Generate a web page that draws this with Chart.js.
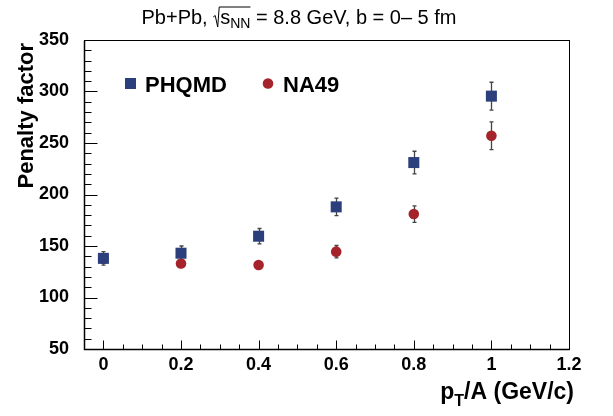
<!DOCTYPE html>
<html><head><meta charset="utf-8">
<script src="https://cdn.jsdelivr.net/npm/chart.js@4/dist/chart.umd.min.js"></script>
<style>html,body{margin:0;padding:0;background:#fff;}canvas{display:block}</style>
</head><body>
<canvas id="c" width="613" height="416"></canvas>
<script>
// ---- data ----
const xValues = [0, 0.2, 0.4, 0.6, 0.8, 1.0];
const phqmdValues = [138, 143, 159.5, 188, 231, 295.5];
const phqmdErrors = [6.5, 7, 7.5, 8.5, 11, 13.5];
const na49Values = [137.5, 133, 131.5, 144.5, 181, 257];
const na49Errors = [3, 2, 2, 6, 8, 13.5];
const xTickValues = [0, 0.2, 0.4, 0.6, 0.8, 1, 1.2];
const yTickValues = [50, 100, 150, 200, 250, 300, 350];
const seriesNames = ['PHQMD', 'NA49'];
const yAxisTitle = 'Penalty factor';

const FONT = '"Liberation Sans", Arial, Helvetica, sans-serif';
const BLUE = '#2b3f7c';
const RED = '#a5232a';
const ERRS = [phqmdErrors, na49Errors];

function pts(ys){ return xValues.map((x,i)=>({x:x, y:ys[i]})); }

const framePlugin = {
  id: 'frame',
  beforeDatasetsDraw(chart){
    const ctx = chart.ctx, xs = chart.scales.x, ys = chart.scales.y;
    ctx.save();
    ctx.strokeStyle = '#444';
    ctx.lineWidth = 1.3;
    chart.data.datasets.forEach((ds, di)=>{
      ds.data.forEach((p, i)=>{
        const e = ERRS[di][i];
        const px = Math.round(xs.getPixelForValue(p.x)) + 0.5;
        const y1 = ys.getPixelForValue(p.y + e), y2 = ys.getPixelForValue(p.y - e);
        ctx.beginPath();
        ctx.moveTo(px, y1); ctx.lineTo(px, y2);
        ctx.moveTo(px-2, y1); ctx.lineTo(px+2, y1);
        ctx.moveTo(px-2, y2); ctx.lineTo(px+2, y2);
        ctx.stroke();
      });
    });
    ctx.restore();
  },
  afterDraw(chart){
    const ctx = chart.ctx, a = chart.chartArea, xs = chart.scales.x, ys = chart.scales.y;
    ctx.save();
    ctx.strokeStyle = '#000';
    ctx.lineWidth = 1;
    const L = Math.round(a.left)+0.5, R = Math.round(a.right)+0.5, T = Math.round(a.top)+0.5, B = Math.round(a.bottom)+0.5;
    ctx.strokeRect(L, T, R-L, B-T);
    ctx.lineWidth = 1.5;
    ctx.beginPath(); ctx.moveTo(L, T); ctx.lineTo(L, B); ctx.lineTo(R, B); ctx.stroke();
    ctx.lineWidth = 1;
    ctx.beginPath();
    for (let v = 50; v <= 350; v += 10) {
      const py = Math.round(ys.getPixelForValue(v)) + 0.5;
      const len = (v % 50 === 0) ? 13 : 7;
      ctx.moveTo(L, py); ctx.lineTo(L + len, py);
    }
    for (let k = 0; k <= 24; k++) {
      const v = k * 0.05;
      const px = Math.round(xs.getPixelForValue(v)) + 0.5;
      const len = (k % 4 === 0) ? 9 : 5;
      ctx.moveTo(px, B); ctx.lineTo(px, B - len);
    }
    ctx.stroke();

    // legend
    ctx.fillStyle = BLUE;
    ctx.fillRect(125, 78, 11, 11);
    ctx.fillStyle = RED;
    ctx.beginPath(); ctx.arc(268, 83.5, 5.3, 0, Math.PI*2); ctx.fill();
    ctx.fillStyle = '#000';
    ctx.font = 'bold 22px ' + FONT;
    ctx.textAlign = 'left'; ctx.textBaseline = 'alphabetic';
    ctx.fillText(seriesNames[0], 145, 91.5);
    ctx.fillText(seriesNames[1], 283, 91.5);

    // y title
    ctx.save();
    ctx.translate(33, 43);
    ctx.rotate(-Math.PI/2);
    ctx.textAlign = 'right';
    ctx.font = 'bold 22px ' + FONT;
    ctx.fillText(yAxisTitle, 0, 0);
    ctx.restore();

    // x title: p_T/A (GeV/c)
    {
      const big = 'bold 23px ' + FONT, small = 'bold 16px ' + FONT;
      ctx.font = big; const w1 = ctx.measureText('p').width;
      const w3 = ctx.measureText('/A (GeV/c)').width;
      ctx.font = small; const w2 = ctx.measureText('T').width;
      const total = w1 + w2 + w3;
      let x = 574 - total; const by = 399;
      ctx.textAlign = 'left';
      ctx.font = big; ctx.fillText('p', x, by); x += w1;
      ctx.font = small; ctx.fillText('T', x, by + 7); x += w2;
      ctx.font = big; ctx.fillText('/A (GeV/c)', x, by);
    }

    // title
    {
      const f = '20px ' + FONT, fs = '14px ' + FONT;
      const p1 = 'Pb+Pb, ', p2 = 's', p3 = 'NN', p4 = ' = 8.8 GeV, b = 0\u2013 5 fm';
      ctx.font = f; const w1 = ctx.measureText(p1).width, w2 = ctx.measureText(p2).width, w4 = ctx.measureText(p4).width;
      ctx.font = fs; const w3 = ctx.measureText(p3).width;
      const rad = 7;
      const total = w1 + rad + w2 + w3 + w4;
      let x = 299 - total/2; const by = 24;
      ctx.textAlign = 'left';
      ctx.font = f; ctx.fillText(p1, x, by); x += w1;
      ctx.lineWidth = 1;
      ctx.beginPath();
      ctx.moveTo(x, by - 7); ctx.lineTo(x + 2, by - 8.5);
      ctx.lineTo(x + 4.5, by + 3); ctx.lineTo(x + 6, by - 17);
      ctx.lineTo(x + 6 + w2 + w3 + 1, by - 17);
      ctx.stroke();
      x += rad;
      ctx.font = f; ctx.fillText(p2, x, by); x += w2;
      ctx.font = fs; ctx.fillText(p3, x, by + 4); x += w3;
      ctx.font = f; ctx.fillText(p4, x, by);
    }
    ctx.restore();
  }
};

new Chart(document.getElementById('c'), {
  type: 'scatter',
  data: {
    datasets: [
      { label: seriesNames[0], data: pts(phqmdValues), pointStyle: 'rect', pointRadius: 7.8, pointHoverRadius: 7.8,
        backgroundColor: BLUE, borderColor: BLUE, borderWidth: 0, pointBorderWidth: 0 },
      { label: seriesNames[1], data: pts(na49Values), pointStyle: 'circle', pointRadius: 5.3, pointHoverRadius: 5.3,
        backgroundColor: RED, borderColor: RED, borderWidth: 0, pointBorderWidth: 0 }
    ]
  },
  options: {
    responsive: false, animation: false, devicePixelRatio: 1,
    layout: { padding: { left: 0, top: 40, right: 44, bottom: 0 } },
    plugins: { legend: { display: false }, tooltip: { enabled: false }, title: { display: false } },
    scales: {
      x: {
        type: 'linear', min: -0.05, max: 1.2,
        grid: { display: false }, border: { display: false },
        afterBuildTicks: s => { s.ticks = xTickValues.map(v => ({ value: v })); },
        afterFit: s => { s.height = 67; },
        ticks: { color: '#000', padding: -3, maxRotation: 0, autoSkip: false,
          font: { family: FONT, size: 18, weight: 'bold' },
          callback: v => String(Math.round(v * 10) / 10) }
      },
      y: {
        type: 'linear', min: 50, max: 350,
        grid: { display: false }, border: { display: false },
        afterBuildTicks: s => { s.ticks = yTickValues.map(v => ({ value: v })); },
        afterFit: s => { s.width = 84; },
        ticks: { color: '#000', padding: 7, autoSkip: false,
          font: { family: FONT, size: 18, weight: 'bold' },
          callback: v => String(v) }
      }
    }
  },
  plugins: [framePlugin]
});
</script>
</body></html>
